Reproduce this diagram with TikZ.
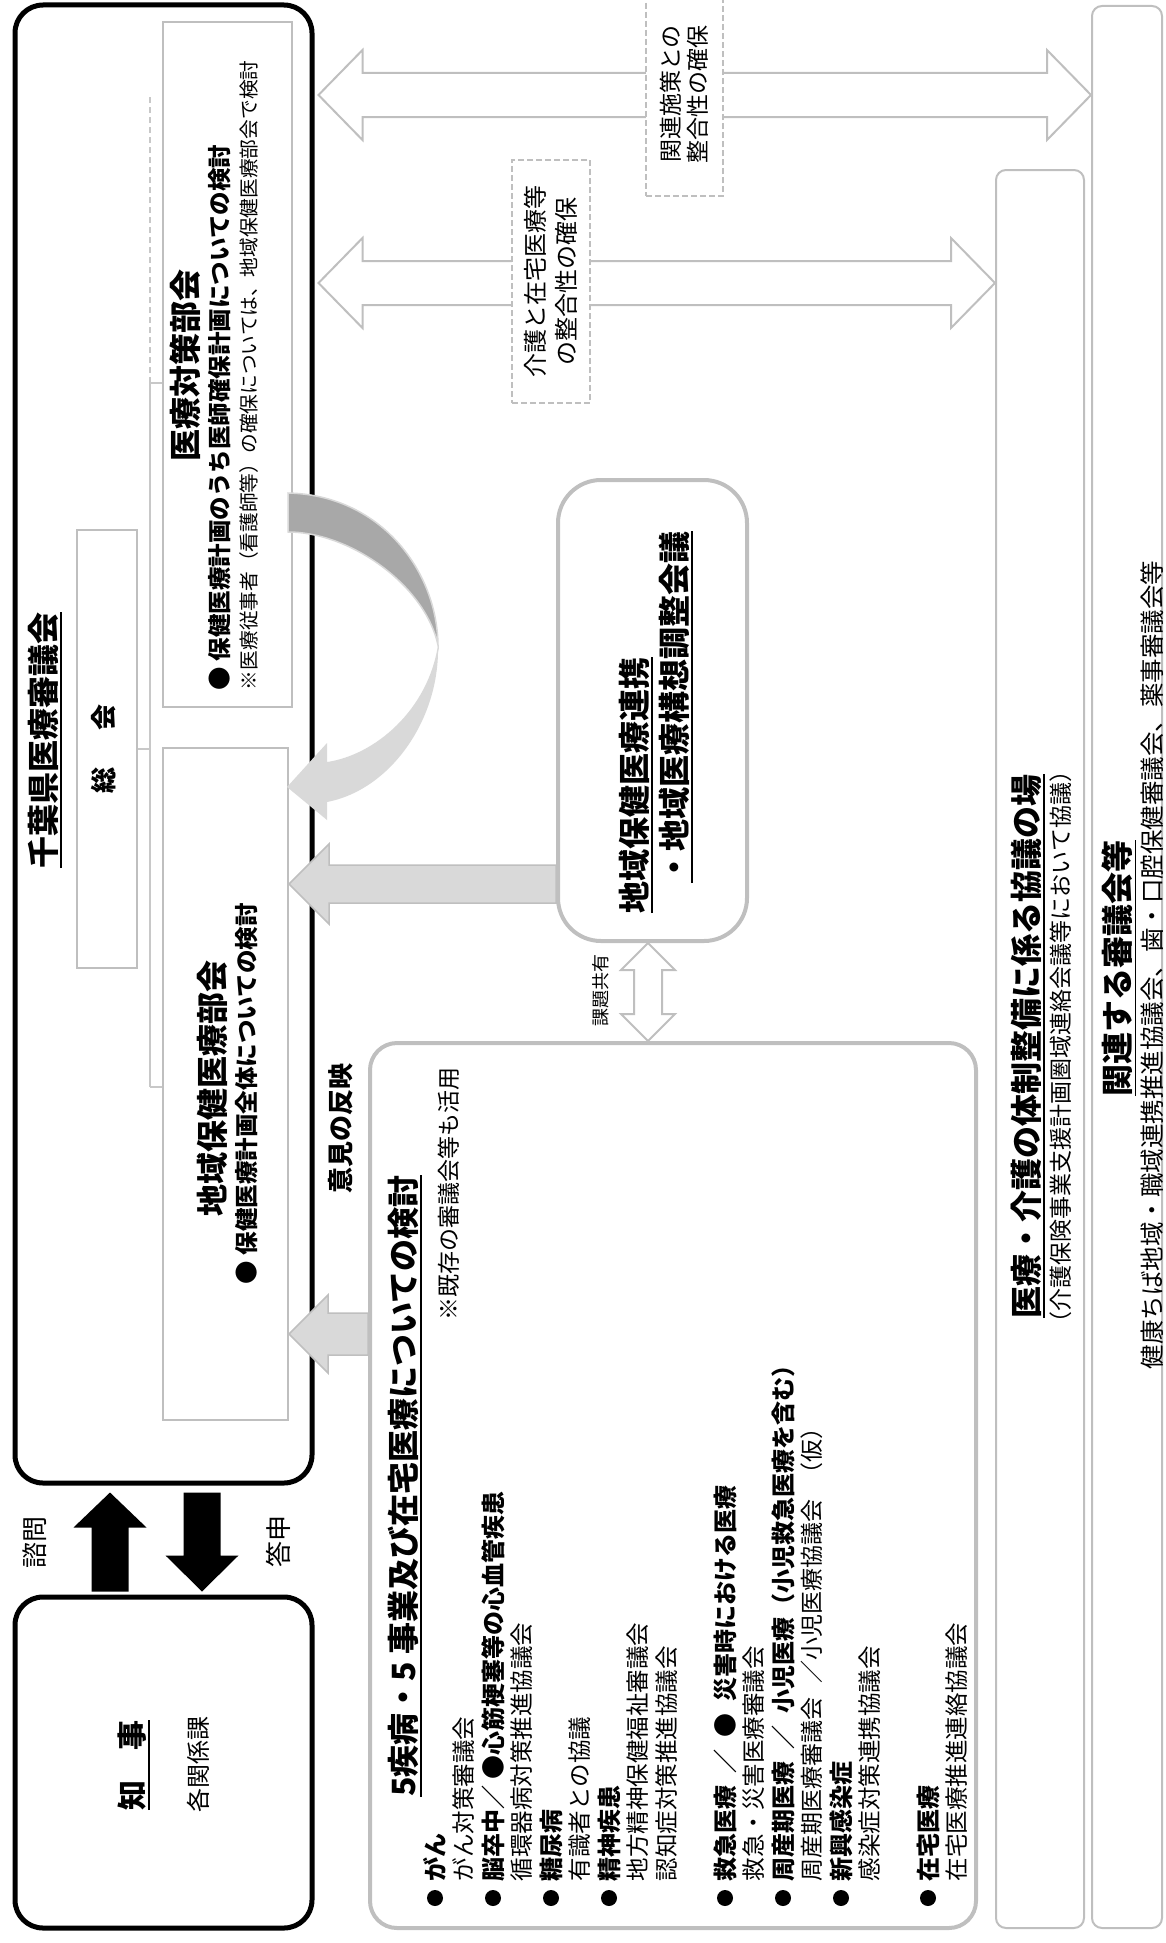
\documentclass[tikz,border=0pt]{standalone}
\usepackage{fontspec}
\setmainfont{Noto Sans CJK JP}
\usetikzlibrary{calc,fit}
\definecolor{lg}{HTML}{BFBFBF}
\definecolor{af}{HTML}{D9D9D9}
\definecolor{dk}{HTML}{A8A8A8}
\definecolor{tl}{HTML}{C8C8C8}
\newcommand\Fz[2]{\fontsize{#1}{#2}\selectfont}
\newcommand\Hs{\hspace{0.5em}}
\newcommand\BkLArrow[6]{\path[#1] let \p1=(#2), \p2=(#3) in (\x1,\y1) -- (\x1+#6pt,\y1+#5pt) -- (\x1+#6pt,\y1+#4pt) -- (\x2,\y1+#4pt) -- (\x2,\y1-#4pt) -- (\x1+#6pt,\y1-#4pt) -- (\x1+#6pt,\y1-#5pt) -- cycle;}
\newcommand\BkHDArrow[6]{\path[#1] let \p1=(#2), \p2=(#3) in (\x1,\y1) -- (\x1+#6pt,\y1+#5pt) -- (\x1+#6pt,\y1+#4pt) -- (\x2-#6pt,\y1+#4pt) -- (\x2-#6pt,\y1+#5pt) -- (\x2,\y1) -- (\x2-#6pt,\y1-#5pt) -- (\x2-#6pt,\y1-#4pt) -- (\x1+#6pt,\y1-#4pt) -- (\x1+#6pt,\y1-#5pt) -- cycle;}
\newcommand\BkVDArrow[6]{\path[#1] let \p1=(#2), \p2=(#3) in (\x1,\y1) -- (\x1+#5pt,\y1-#6pt) -- (\x1+#4pt,\y1-#6pt) -- (\x1+#4pt,\y2+#6pt) -- (\x1+#5pt,\y2+#6pt) -- (\x1,\y2) -- (\x1-#5pt,\y2+#6pt) -- (\x1-#4pt,\y2+#6pt) -- (\x1-#4pt,\y1-#6pt) -- (\x1-#5pt,\y1-#6pt) -- cycle;}
\newcommand\BkUArrow[6]{\path[#1] let \p1=(#2), \p2=(#3) in (\x1,\y1) -- (\x1+#5pt,\y1-#6pt) -- (\x1+#4pt,\y1-#6pt) -- (\x1+#4pt,\y2) -- (\x1-#4pt,\y2) -- (\x1-#4pt,\y1-#6pt) -- (\x1-#5pt,\y1-#6pt) -- cycle;}
\newcommand\BkDArrow[6]{\path[#1] let \p1=(#2), \p2=(#3) in (\x1,\y1) -- (\x1+#5pt,\y1+#6pt) -- (\x1+#4pt,\y1+#6pt) -- (\x1+#4pt,\y2) -- (\x1-#4pt,\y2) -- (\x1-#4pt,\y1+#6pt) -- (\x1-#5pt,\y1+#6pt) -- cycle;}
\begin{document}
\begin{tikzpicture}[x=1pt,y=-1pt,
  vt/.style={rotate=90, inner sep=0pt, outer sep=0pt},
  bl/.style={vt, anchor=west},
  dot/.style={fill=black, circle, inner sep=0pt, minimum size=16pt},
  blk/.style={draw=black, line width=5pt, rounded corners=28pt, inner sep=0pt},
  gbx/.style={draw=lg, line width=2pt, inner sep=0pt},
  rbx/.style={draw=lg, line width=4pt, inner sep=0pt},
  tbx/.style={draw=lg, line width=2pt, rounded corners=10pt, inner sep=0pt},
  dbx/.style={draw=lg, fill=white, line width=2pt, dash pattern=on 6pt off 3pt, inner sep=0pt},
  treeln/.style={draw=tl, line width=2pt},
  ulin/.style={draw=black, line width=1.8pt},
  hollowar/.style={draw=lg, fill=white, line width=2pt},
  lgarrow/.style={draw=lg, fill=af, line width=1.5pt},
]
\useasboundingbox (0,0) rectangle (1165,1943);

% ---------- main boxes ----------
\node[blk, fit={(15,5) (312,1483)}] (council) {};
\node[blk, fit={(15,1597) (312,1928)}] (chiji) {};
\node[gbx, fit={(77,530) (137,968)}] (sokai) {};
\node[gbx, fit={(163,22) (292,707)}] (taisaku) {};
\node[gbx, fit={(163,748) (288,1420)}] (chiiki) {};
\node[tbx, fit={(996,170) (1084,1928)}] (kyogi) {};
\node[tbx, fit={(1092,6) (1162,1928)}] (kanren) {};

% ---------- tree inside the council ----------
\coordinate (trunk) at (150,383);
\coordinate (trunkb) at (150,1087);
\coordinate (trunktop) at (150,96);
\draw[treeln] (sokai.east) -- (sokai.east -| trunk);
\draw[treeln] (trunk) -- (trunkb);
\draw[treeln] (trunk) -- (trunk -| taisaku.west);
\draw[treeln] (trunkb) -- (trunkb -| chiiki.west);
\draw[treeln, dash pattern=on 6pt off 4pt] (trunk) -- (trunktop);

% ---------- reference points ----------
\coordinate (cR) at ($(council.east)+(4,0)$);
\coordinate (cB) at ($(council.south)+(0,7)$);
\coordinate (jT) at ($(chiji.north)+(0,-3)$);
\coordinate (sx) at (110,0);
\coordinate (dx) at (202,0);
\coordinate (a2) at (288,884);
\coordinate (a3) at (288,1334);
\coordinate (a4) at (648,990);
\coordinate (y1) at (0,95);
\coordinate (y2) at (0,283);

% ---------- black arrows ----------
\BkUArrow{fill=black}{cB -| sx}{jT -| sx}{18.5}{36.5}{35}
\BkDArrow{fill=black}{jT -| dx}{cB -| dx}{18.5}{36.5}{36}

% ---------- long hollow double arrows ----------
\BkHDArrow{hollowar}{cR |- y1}{kanren.west |- y1}{22}{45}{44}
\BkHDArrow{hollowar}{cR |- y2}{kyogi.west |- y2}{22}{45}{44}

% ---------- curved arrow ----------
\filldraw[fill=dk, draw=af, line width=1.5pt] (288,493) .. controls (380,495) and (437,570) .. (438,645) .. controls (425,585) and (350,532) .. (288,532) -- cycle;
\fill[af] (438,645) .. controls (440,720) and (390,790) .. (327,802) -- (327,820) -- (287,787) -- (327,743) -- (327,762) .. controls (375,755) and (428,710) .. (438,645) -- cycle;

% ---------- boxes on the right of the council ----------
\node[rbx, rounded corners=43pt, fit={(558,480) (747,941)}] (renkei) {};
\node[rbx, rounded corners=27pt, fit={(370,1043) (976,1928)}] (shippei) {};

% ---------- light arrows into the council ----------
\BkLArrow{lgarrow}{chiiki.east |- a2}{renkei.west |- a2}{19}{40}{40}
\BkLArrow{lgarrow}{chiiki.east |- a3}{shippei.west |- a3}{21}{39}{39}
\BkVDArrow{hollowar}{renkei.south -| a4}{shippei.north -| a4}{14}{27}{27}

% ---------- dashed label boxes ----------
\node[dbx, fit={(646,-8) (723,196)}] (sesaku) {};
\node[dbx, fit={(512,160) (590,403)}] (kaigo) {};
\node[vt, align=center, font=\Fz{23}{27}] (t-sesaku) at (sesaku.center) {関連施策との\\整合性の確保};
\node[vt, align=center, font=\Fz{24}{31}] (t-kaigo) at (kaigo.center) {介護と在宅医療等\\の整合性の確保};

% ---------- council texts ----------
\node[vt] (t-council) at (43,740) {\Fz{32}{38}\bfseries 千葉県医療審議会};
\draw[ulin] ($(t-council.south west)+(3,0)$) -- ($(t-council.south east)+(3,0)$);
\node[vt] (t-sokai) at (104,749) {\Fz{26}{30}\bfseries 総\hspace{1.4em}会};
\node[vt] (t-taisaku) at (185,365) {\Fz{32}{38}\bfseries 医療対策部会};
\node[bl] (t-taisaku1) at (220,690) {\Fz{23.5}{28}\bfseries ● 保健医療計画のうち医師確保計画についての検討};
\node[bl] (t-taisaku2) at (249,690) {\Fz{19.7}{24}※医療従事者（看護師等）の確保については、地域保健医療部会で検討};
\node[vt] (t-chiiki) at (212,1088) {\Fz{32}{38}\bfseries 地域保健医療部会};
\node[bl] (t-chiiki1) at (247,1284) {\Fz{23.5}{28}\bfseries ● 保健医療計画全体についての検討};
\node[vt] (t-iken) at (341,1128) {\Fz{26}{30}\bfseries 意見の反映};

% ---------- governor ----------
\node[vt] (t-chiji) at (132,1765) {\Fz{30}{36}\bfseries 知　事};
\draw[ulin] ($(t-chiji.south west)+(3,0)$) -- ($(t-chiji.south east)+(3,0)$);
\node[vt] (t-kaku) at (198,1764) {\Fz{24}{28}各関係課};
\node[vt] (t-shimon) at (35,1542) {\Fz{26}{30}諮問};
\node[vt] (t-toshin) at (278,1541) {\Fz{26}{30}答申};

% ---------- regional cooperation box ----------
\node[bl] (t-renkei1) at (634,913) {\Fz{32}{38}\bfseries 地域保健医療連携};
\draw[ulin] ($(t-renkei1.south west)+(3,0)$) -- ($(t-renkei1.south east)+(3,0)$);
\node[bl] (t-renkei2) at (674,883) {\Fz{32}{38}\bfseries ・地域医療構想調整会議};
\draw[ulin] ($(t-renkei2.south west)+(3,0)$) -- ($(t-renkei2.south east)+(3,0)$);
\node[vt] (t-kadai) at (601,990) {\Fz{18}{22}課題共有};

% ---------- 5 diseases box ----------
\node[vt] (t-shippei) at (403,1486) {\Fz{32}{38}\bfseries 5疾病・5 事業及び在宅医療についての検討};
\draw[ulin] ($(t-shippei.south west)+(3,0)$) -- ($(t-shippei.south east)+(3,0)$);
\node[vt, anchor=east] (t-kizon) at (449,1067) {\Fz{23}{28}※既存の審議会等も活用};
\foreach \bx/\bn in {435/b1, 493/b2, 551/b3, 609/b4, 725/b5, 783/b6, 841/b7, 928/b8}
  \node[dot] (\bn) at (\bx,1898) {};
\node[bl] (l01) at (435,1881) {\Fz{24}{28}\bfseries がん};
\node[bl] (l02) at (464,1881) {\Fz{23.5}{28}がん対策審議会};
\node[bl] (l03) at (493,1881) {\Fz{24}{28}\bfseries 脳卒中／ ●心筋梗塞等の心血管疾患};
\node[bl] (l04) at (522,1881) {\Fz{23.5}{28}循環器病対策推進協議会};
\node[bl] (l05) at (551,1881) {\Fz{24}{28}\bfseries 糖尿病};
\node[bl] (l06) at (580,1881) {\Fz{23.5}{28}有識者との協議};
\node[bl] (l07) at (609,1881) {\Fz{24}{28}\bfseries 精神疾患};
\node[bl] (l08) at (638,1881) {\Fz{23.5}{28}地方精神保健福祉審議会};
\node[bl] (l09) at (667,1881) {\Fz{23.5}{28}認知症対策推進協議会};
\node[bl] (l10) at (725,1881) {\Fz{24}{28}\bfseries 救急医療\Hs／\Hs●\Hs 災害時における医療};
\node[bl] (l11) at (754,1881) {\Fz{23.5}{28}救急・災害医療審議会};
\node[bl] (l12) at (783,1881) {\Fz{24}{28}\bfseries 周産期医療\Hs／\Hs 小児医療（小児救急医療を含む）};
\node[bl] (l13) at (812,1881) {\Fz{23}{28}周産期医療審議会\hspace{0.6em}／小児医療協議会\hspace{0.6em}（仮）};
\node[bl] (l14) at (841,1881) {\Fz{24}{28}\bfseries 新興感染症};
\node[bl] (l15) at (870,1881) {\Fz{23.5}{28}感染症対策連携協議会};
\node[bl] (l16) at (928,1881) {\Fz{24}{28}\bfseries 在宅医療};
\node[bl] (l17) at (957,1881) {\Fz{23.5}{28}在宅医療推進連絡協議会};

% ---------- right-hand boxes ----------
\node[vt] (t-kyogi) at (1026,1046) {\Fz{32}{38}\bfseries 医療・介護の体制整備に係る協議の場};
\draw[ulin] ($(t-kyogi.south west)+(3,0)$) -- ($(t-kyogi.south east)+(3,0)$);
\node[vt] (t-kyogi2) at (1061,1047) {\Fz{23}{28}（介護保険事業支援計画圏域連絡会議等において協議）};
\node[vt] (t-kanren) at (1117,968) {\Fz{32}{38}\bfseries 関連する審議会等};
\draw[ulin] ($(t-kanren.south west)+(3,0)$) -- ($(t-kanren.south east)+(3,0)$);
\node[vt] (t-kanren2) at (1152,965) {\Fz{24.5}{28}健康ちば地域・職域連携推進協議会、歯・口腔保健審議会、薬事審議会等};
\end{tikzpicture}
\end{document}
